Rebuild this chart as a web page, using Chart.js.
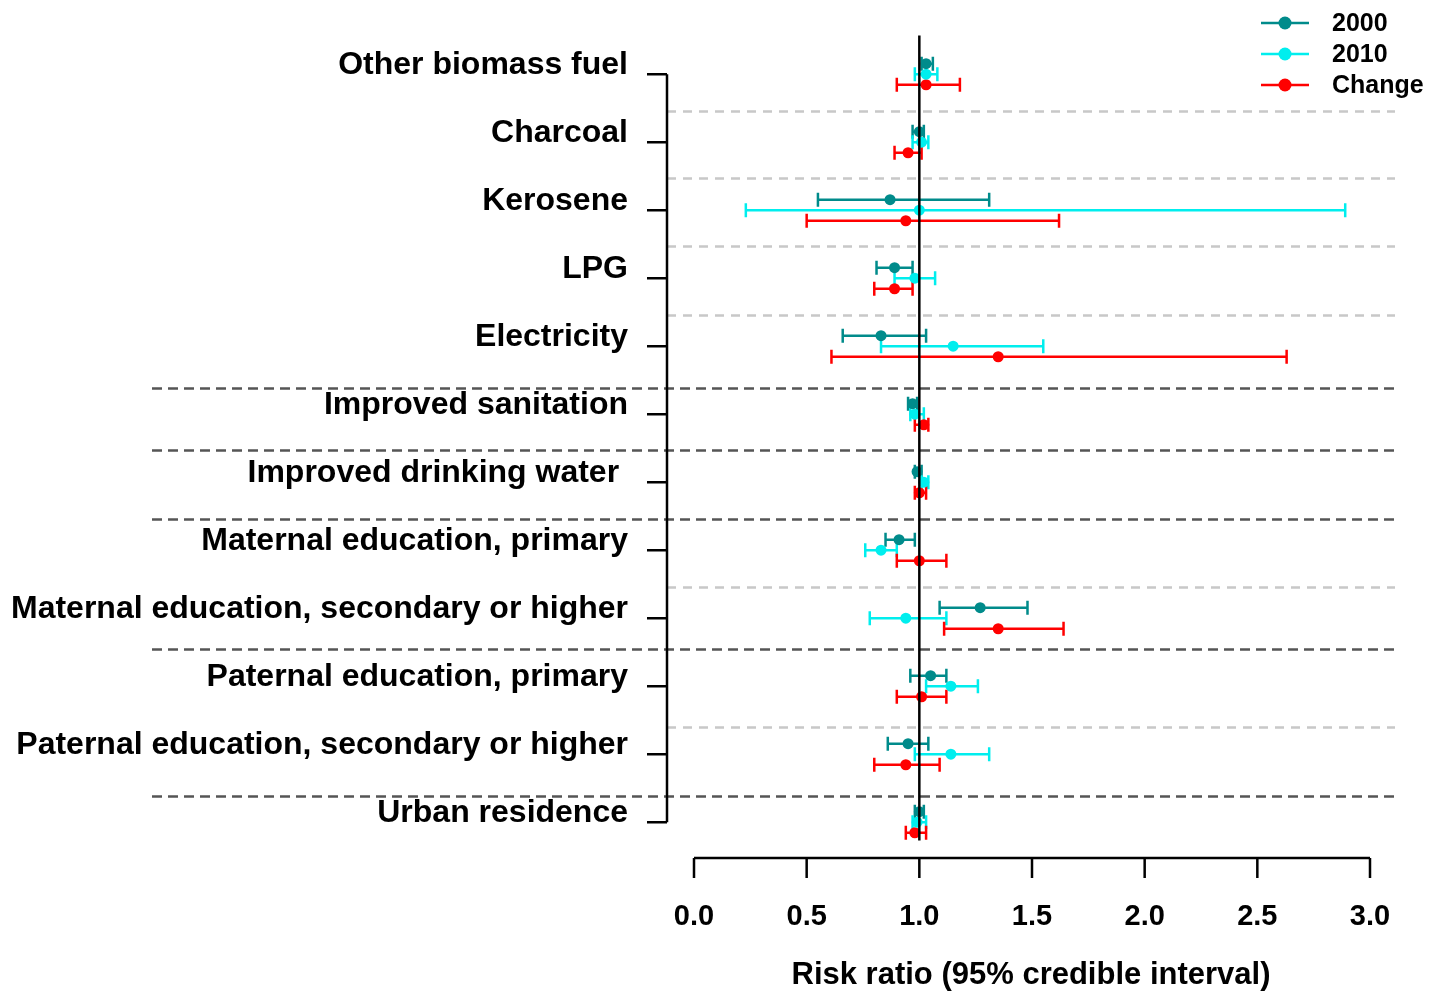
<!DOCTYPE html>
<html>
<head>
<meta charset="utf-8">
<script src="https://cdn.jsdelivr.net/npm/chart.js@4.4.0/dist/chart.umd.min.js"></script>
<style>
  html, body { margin: 0; padding: 0; background: #fff; }
  #wrap { width: 1446px; height: 992px; }
</style>
</head>
<body>
<div id="wrap"><canvas id="chart" width="1446" height="992"></canvas></div>
<script>
const categories = [
  "Other biomass fuel",
  "Charcoal",
  "Kerosene",
  "LPG",
  "Electricity",
  "Improved sanitation",
  "Improved drinking water ",
  "Maternal education, primary",
  "Maternal education, secondary or higher",
  "Paternal education, primary",
  "Paternal education, secondary or higher",
  "Urban residence",
];

// risk ratio estimates and 95% credible intervals
const est2000 = [1.03, 1.00, 0.87, 0.89, 0.83, 0.97, 0.99, 0.91, 1.27, 1.05, 0.95, 1.00];
const lo2000 = [1.01, 0.97, 0.55, 0.81, 0.66, 0.95, 0.98, 0.85, 1.09, 0.96, 0.86, 0.98];
const hi2000 = [1.06, 1.02, 1.31, 0.97, 1.03, 0.99, 1.01, 0.98, 1.48, 1.12, 1.04, 1.02];

const est2010 = [1.03, 1.01, 1.00, 0.98, 1.15, 0.98, 1.02, 0.83, 0.94, 1.14, 1.14, 0.99];
const lo2010 = [0.98, 0.97, 0.23, 0.89, 0.83, 0.96, 1.01, 0.76, 0.78, 1.03, 0.98, 0.97];
const hi2010 = [1.08, 1.04, 2.89, 1.07, 1.55, 1.02, 1.04, 0.90, 1.12, 1.26, 1.31, 1.03];

const estChange = [1.03, 0.95, 0.94, 0.89, 1.35, 1.02, 1.00, 1.00, 1.35, 1.01, 0.94, 0.98];
const loChange = [0.90, 0.89, 0.50, 0.80, 0.61, 0.98, 0.98, 0.90, 1.11, 0.90, 0.80, 0.94];
const hiChange = [1.18, 1.01, 1.62, 0.97, 2.63, 1.04, 1.03, 1.12, 1.64, 1.12, 1.09, 1.03];

const xTicks = [0, 0.5, 1, 1.5, 2, 2.5, 3];

// group separators (in row units)
const minorSeps = [0.54, 1.53, 2.53, 3.54, 7.54, 9.6];
const majorSeps = [4.62, 5.53, 6.54, 8.46, 10.61];

const FONT = "'Liberation Sans', Arial, Helvetica, sans-serif";
const ROW_SHIFT = 0.155;

function makeSet(label, color, est, lo, hi, shift) {
  return {
    label: label,
    data: est.map((v, i) => ({ x: v, y: i + shift })),
    errLow: lo,
    errHigh: hi,
    backgroundColor: color,
    borderColor: color,
    pointBackgroundColor: color,
    pointBorderWidth: 0,
    pointRadius: 5.5,
    pointHoverRadius: 5.5,
    showLine: false,
  };
}

const forestPlugin = {
  id: "forest",
  beforeDatasetsDraw(chart) {
    const { ctx, chartArea, scales: { x, y } } = chart;
    ctx.save();
    // light separators inside the plot
    ctx.strokeStyle = "#c8c8c8";
    ctx.lineWidth = 2.5;
    ctx.setLineDash([9, 7]);
    minorSeps.forEach((s) => {
      const py = Math.round(y.getPixelForValue(s)) + 0.5;
      ctx.beginPath();
      ctx.moveTo(chartArea.left, py);
      ctx.lineTo(chartArea.right, py);
      ctx.stroke();
    });
    // dark separators between groups
    ctx.strokeStyle = "#555555";
    ctx.lineWidth = 2.5;
    ctx.setLineDash([10, 6]);
    majorSeps.forEach((s) => {
      const py = Math.round(y.getPixelForValue(s)) + 0.5;
      ctx.beginPath();
      ctx.moveTo(152, py);
      ctx.lineTo(chartArea.right, py);
      ctx.stroke();
    });
    ctx.setLineDash([]);

    // error bars
    chart.data.datasets.forEach((ds) => {
      ctx.strokeStyle = ds.borderColor;
      ctx.lineWidth = 2.5;
      ds.data.forEach((pt, i) => {
        const py = y.getPixelForValue(pt.y);
        const x1 = x.getPixelForValue(ds.errLow[i]);
        const x2 = x.getPixelForValue(ds.errHigh[i]);
        ctx.beginPath();
        ctx.moveTo(x1, py);
        ctx.lineTo(x2, py);
        ctx.moveTo(x1, py - 7);
        ctx.lineTo(x1, py + 7);
        ctx.moveTo(x2, py - 7);
        ctx.lineTo(x2, py + 7);
        ctx.stroke();
      });
    });
    ctx.restore();
  },
  afterDatasetsDraw(chart) {
    const { ctx, scales: { x, y } } = chart;
    ctx.save();
    // reference line at 1
    const px = x.getPixelForValue(1);
    ctx.strokeStyle = "#000";
    ctx.lineWidth = 2.5;
    ctx.beginPath();
    ctx.moveTo(px, y.getPixelForValue(-0.57));
    ctx.lineTo(px, y.getPixelForValue(11.27));
    ctx.stroke();

    // y axis line and ticks
    const ax = chart.chartArea.left;
    ctx.beginPath();
    ctx.moveTo(ax, y.getPixelForValue(0));
    ctx.lineTo(ax, y.getPixelForValue(categories.length - 1));
    categories.forEach((c, i) => {
      const py = y.getPixelForValue(i);
      ctx.moveTo(ax - 20, py);
      ctx.lineTo(ax, py);
    });
    ctx.stroke();

    // x axis line and ticks
    const ay = 858;
    ctx.beginPath();
    ctx.moveTo(x.getPixelForValue(xTicks[0]), ay);
    ctx.lineTo(x.getPixelForValue(xTicks[xTicks.length - 1]), ay);
    xTicks.forEach((t) => {
      const tx = x.getPixelForValue(t);
      ctx.moveTo(tx, ay);
      ctx.lineTo(tx, ay + 20);
    });
    ctx.stroke();

    // legend
    ctx.font = "bold 25px " + FONT;
    ctx.textBaseline = "middle";
    ctx.textAlign = "left";
    chart.data.datasets.forEach((ds, i) => {
      const ly = 23 + i * 31;
      ctx.strokeStyle = ds.borderColor;
      ctx.lineWidth = 2.5;
      ctx.beginPath();
      ctx.moveTo(1261, ly);
      ctx.lineTo(1309, ly);
      ctx.stroke();
      ctx.fillStyle = ds.borderColor;
      ctx.beginPath();
      ctx.arc(1285, ly, 6.5, 0, Math.PI * 2);
      ctx.fill();
      ctx.fillStyle = "#000";
      ctx.fillText(ds.label, 1332, ly + 1);
    });
    ctx.restore();
  },
};

new Chart(document.getElementById("chart"), {
  type: "scatter",
  data: {
    datasets: [
      makeSet("2000", "#008b8b", est2000, lo2000, hi2000, -ROW_SHIFT),
      makeSet("2010", "#00eeee", est2010, lo2010, hi2010, 0),
      makeSet("Change", "#ff0000", estChange, loChange, hiChange, ROW_SHIFT),
    ],
  },
  options: {
    responsive: false,
    animation: false,
    events: [],
    layout: { padding: { top: 30, right: 51, left: 0, bottom: 0 } },
    plugins: {
      legend: { display: false },
      tooltip: { enabled: false },
    },
    scales: {
      x: {
        type: "linear",
        min: -27 / 225.33,
        max: 3 + 25 / 225.33,
        afterBuildTicks: (s) => {
          s.ticks = xTicks.map((v) => ({ value: v }));
        },
        afterFit: (s) => {
          s.height = 146;
          s.paddingLeft = 0;
          s.paddingRight = 0;
        },
        grid: { display: false, drawTicks: false },
        border: { display: false },
        ticks: {
          callback: (v) => v.toFixed(1),
          font: { family: FONT, size: 29, weight: "bold" },
          color: "#000",
          padding: 54,
          maxRotation: 0,
          autoSkip: false,
        },
        title: {
          display: true,
          text: "Risk ratio (95% credible interval)",
          font: { family: FONT, size: 31, weight: "bold", lineHeight: 1.05 },
          color: "#000",
          padding: { top: 0, bottom: 0 },
        },
      },
      y: {
        type: "linear",
        reverse: true,
        min: -0.65,
        max: 11.35,
        afterBuildTicks: (s) => {
          s.ticks = categories.map((c, i) => ({ value: i }));
        },
        afterFit: (s) => {
          s.width = 667;
          s.paddingTop = 0;
          s.paddingBottom = 0;
        },
        grid: { display: false, drawTicks: false },
        border: { display: false },
        ticks: {
          callback: (v) => categories[Math.round(v)],
          font: { family: FONT, size: 32, weight: "bold" },
          color: "#000",
          padding: 39,
          labelOffset: -9,
          autoSkip: false,
        },
      },
    },
  },
  plugins: [forestPlugin],
});
</script>
</body>
</html>
